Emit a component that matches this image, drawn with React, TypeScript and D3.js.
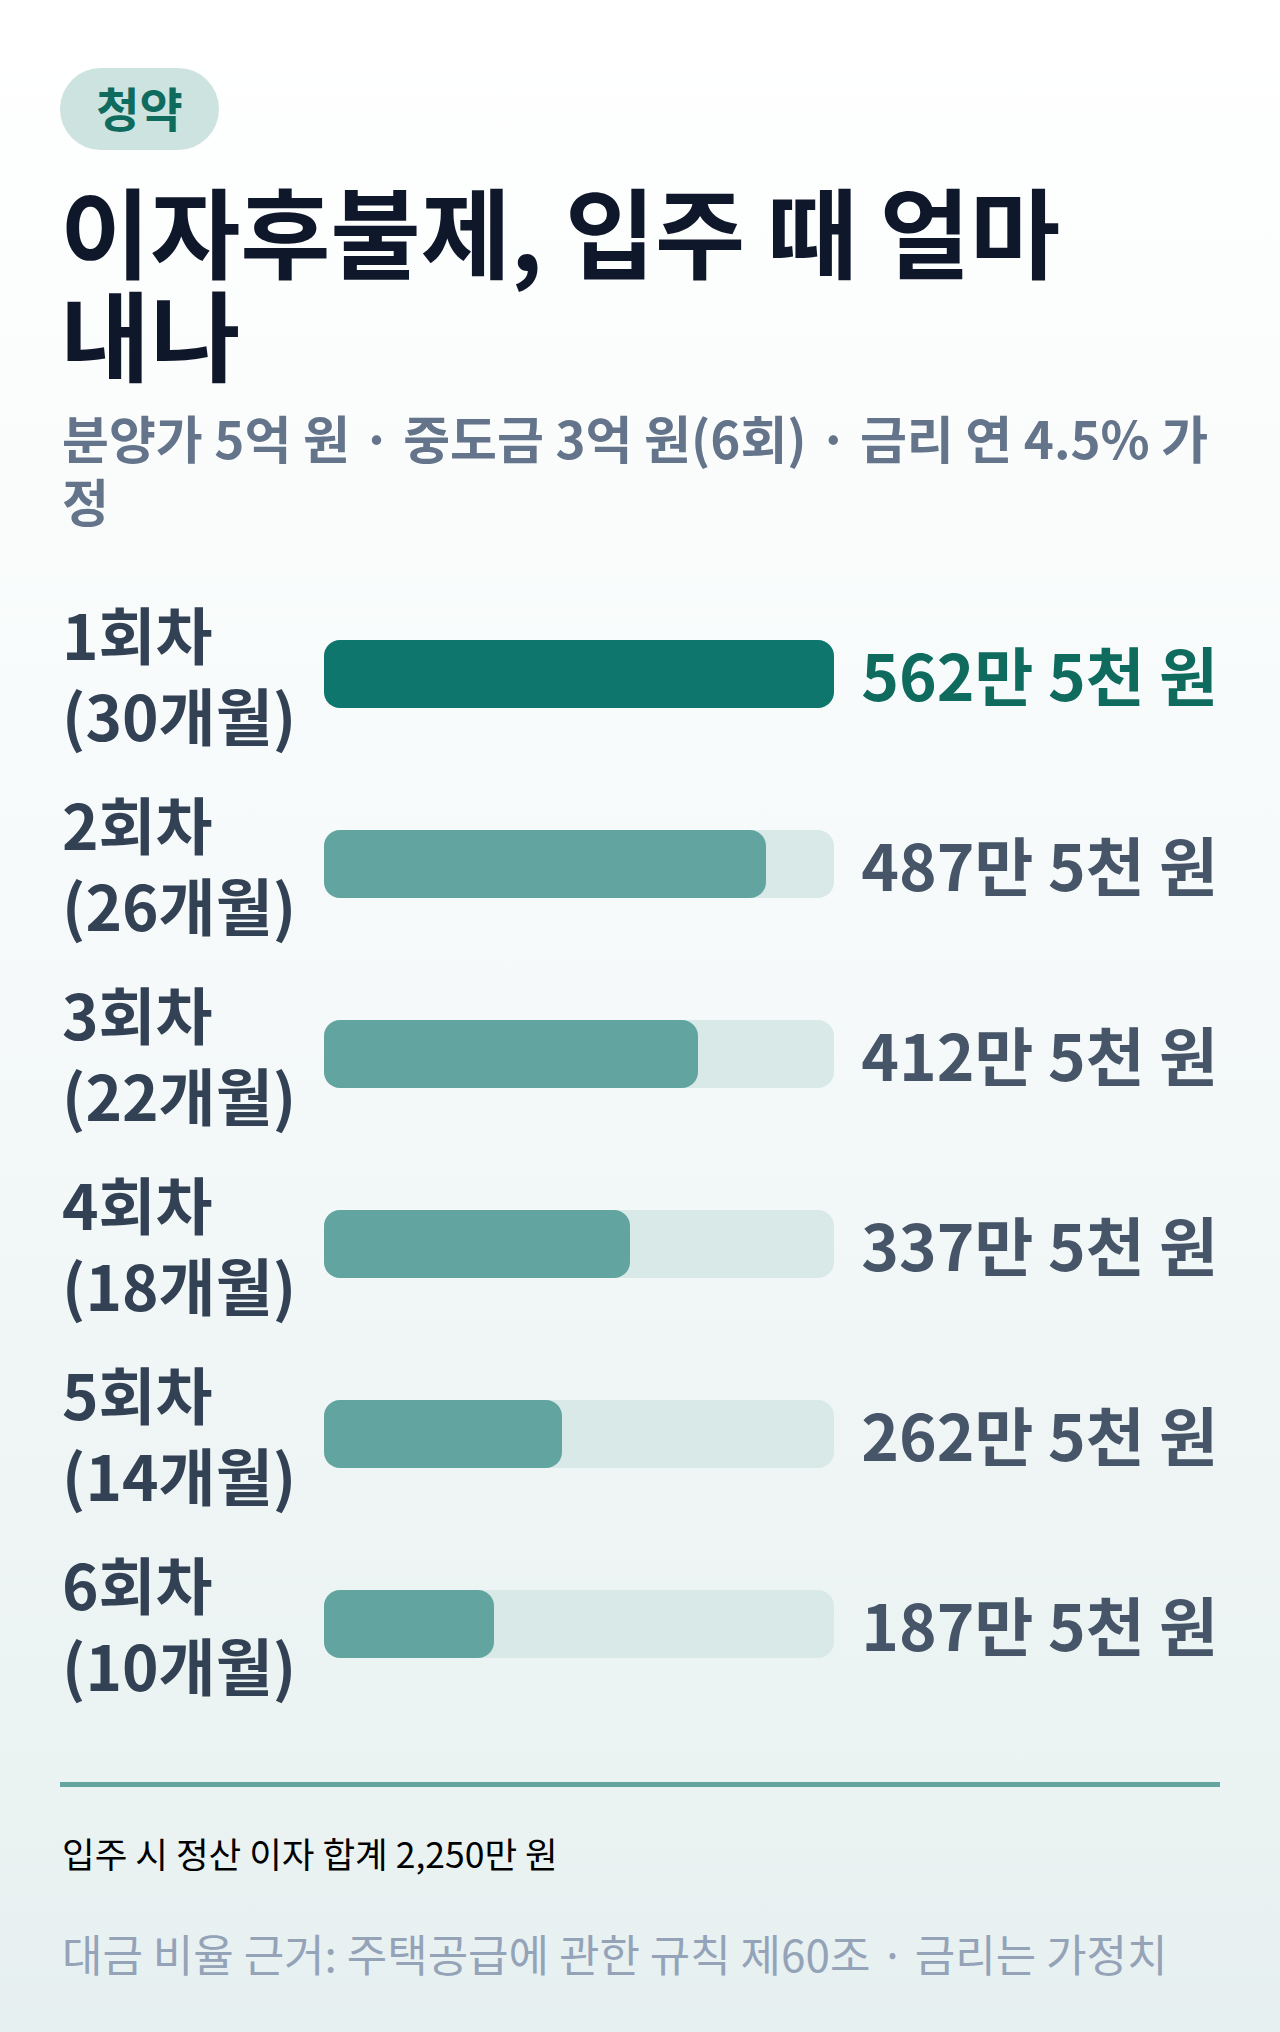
import React, { useEffect } from "react";
import * as d3 from "d3";

const badgeText = "청약";
const titleLines = ["이자후불제, 입주 때 얼마", "내나"];
const subtitleLines = ["분양가 5억 원 · 중도금 3억 원(6회) · 금리 연 4.5% 가", "정"];
const rounds = ["1회차", "2회차", "3회차", "4회차", "5회차", "6회차"];
const months = [30, 26, 22, 18, 14, 10];
const interest = [562.5, 487.5, 412.5, 337.5, 262.5, 187.5]; // 만 원
const totalNote = "입주 시 정산 이자 합계 2,250만 원";
const sourceNote = "대금 비율 근거: 주택공급에 관한 규칙 제60조 · 금리는 가정치";

const W = 1280;
const H = 2032;
const FONT = "'Noto Sans CJK KR', 'Noto Sans', sans-serif";

function fmtValue(v: number) {
  const man = Math.floor(v);
  const cheon = Math.round((v - man) * 10);
  return cheon ? `${man}만 ${cheon}천 원` : `${man}만 원`;
}

export default function App() {
  useEffect(() => {
    document.body.style.margin = "0";
  }, []);

  const x = d3.scaleLinear().domain([0, d3.max(interest) as number]).range([0, 510]);
  const y = d3.scaleBand<string>().domain(rounds).range([579, 579 + 190 * rounds.length]);
  const barX = 324;
  const barH = 68;

  return (
    <svg width={W} height={H} viewBox={`0 0 ${W} ${H}`} style={{ display: "block" }} fontFamily={FONT}>
      <defs>
        <linearGradient id="bg" x1="0" y1="0" x2="0" y2="1">
          <stop offset="0" stopColor="#ffffff" />
          <stop offset="0.5" stopColor="#f5f9f9" />
          <stop offset="1" stopColor="#e7f0f0" />
        </linearGradient>
      </defs>
      <rect x={0} y={0} width={W} height={H} fill="url(#bg)" />

      <rect x={60} y={68} width={159} height={82} rx={41} fill="#cde3e0" />
      <text x={139.5} y={106} textAnchor="middle" dominantBaseline="central" fontSize={47} fontWeight={700} fill="#0f6b5e">
        {badgeText}
      </text>

      {titleLines.map((t, i) => (
        <text key={t} x={60} y={228 + i * 103} dominantBaseline="central" fontSize={98} fontWeight={700} fill="#0f172a">
          {t}
        </text>
      ))}

      {subtitleLines.map((t, i) => (
        <text key={t} x={62} y={437 + i * 63} dominantBaseline="central" fontSize={51} fontWeight={600} fill="#64748b">
          {t}
        </text>
      ))}

      {rounds.map((r, i) => {
        const cy = (y(r) as number) + y.bandwidth() / 2;
        const first = i === 0;
        return (
          <g key={r}>
            <text x={62} y={cy - 41} dominantBaseline="central" fontSize={62} fontWeight={700} fill="#334155">
              {r}
            </text>
            <text x={62} y={cy + 40} dominantBaseline="central" fontSize={62} fontWeight={700} fill="#334155">
              {`(${months[i]}개월)`}
            </text>
            <rect x={barX} y={cy - barH / 2} width={x.range()[1]} height={barH} rx={16} fill="#d9e9e7" />
            <rect x={barX} y={cy - barH / 2} width={x(interest[i])} height={barH} rx={16} fill={first ? "#0f766d" : "#62a5a0"} />
            <text x={1218} y={cy - 1} textAnchor="end" dominantBaseline="central" fontSize={64} fontWeight={700} fill={first ? "#0f6b5e" : "#475569"}>
              {fmtValue(interest[i])}
            </text>
          </g>
        );
      })}

      <rect x={60} y={1782} width={1160} height={5} fill="#62a59f" />

      <text x={62} y={1852} dominantBaseline="central" fontSize={35.5} fontWeight={400} fill="#000000">
        {totalNote}
      </text>
      <text x={62} y={1953} dominantBaseline="central" fontSize={44} fontWeight={400} fill="#94a3b8">
        {sourceNote}
      </text>
    </svg>
  );
}
